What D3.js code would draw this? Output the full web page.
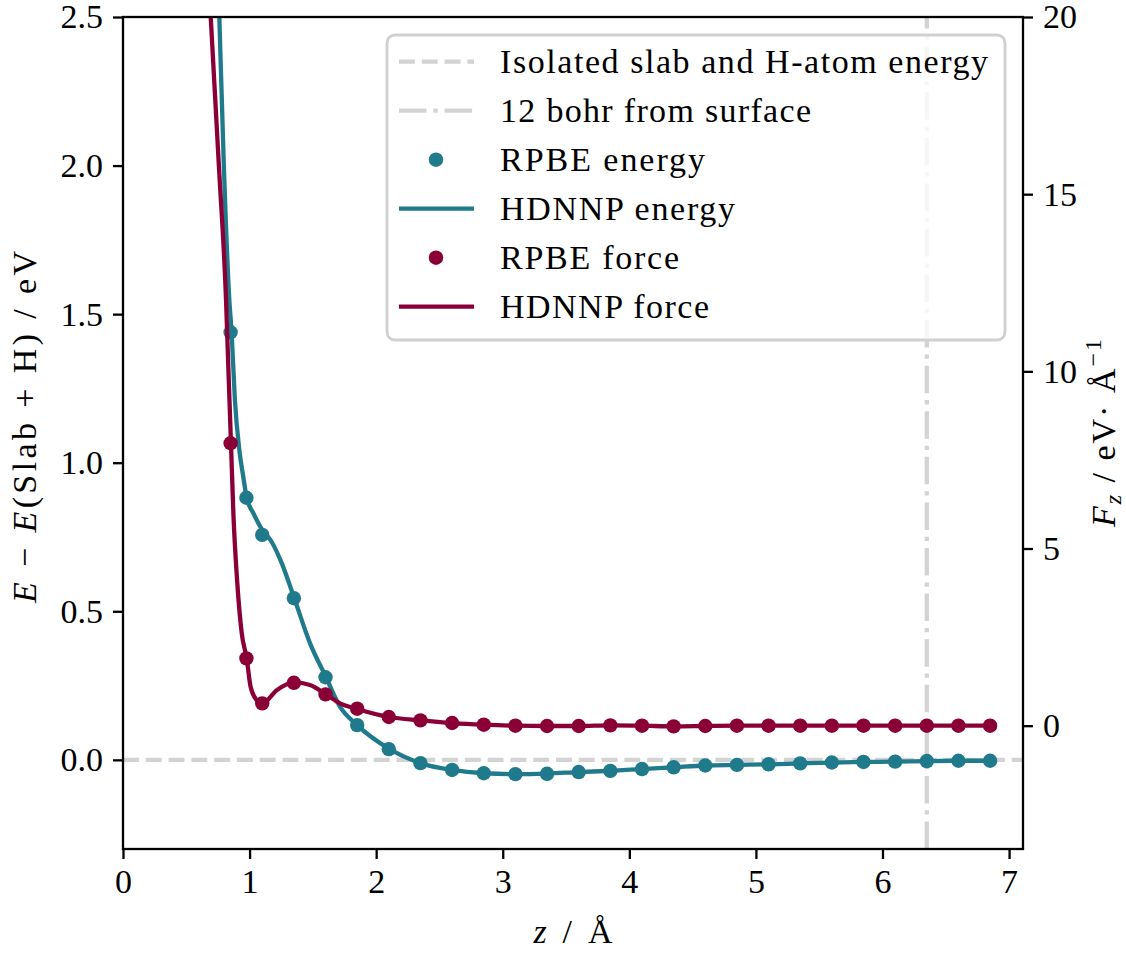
<!DOCTYPE html>
<html><head><meta charset="utf-8">
<script src="https://cdn.jsdelivr.net/npm/d3@7"></script>
<style>
body{margin:0;background:#fff}
text{font-family:"Liberation Serif","Times New Roman",serif;fill:#000}
</style>
</head><body>
<svg id="chart" width="1126" height="954"></svg>
<script>
// ---------- data ----------
const zPoints = [0.85, 0.975, 1.1, 1.35, 1.6, 1.85, 2.1, 2.35, 2.6, 2.85, 3.1, 3.35, 3.6, 3.85, 4.1, 4.35, 4.6, 4.85, 5.1, 5.35, 5.6, 5.85, 6.1, 6.35, 6.6, 6.85];
const rpbeEnergy = [1.439, 0.882, 0.757, 0.544, 0.278, 0.117, 0.036, -0.011, -0.034, -0.045, -0.048, -0.047, -0.041, -0.037, -0.031, -0.025, -0.019, -0.017, -0.015, -0.012, -0.009, -0.007, -0.006, -0.004, -0.003, -0.003];
const rpbeForce = [7.97, 1.90, 0.63, 1.21, 0.885, 0.48, 0.245, 0.15, 0.075, 0.028, 0.0, -0.009, -0.009, 0.009, 0.0, -0.019, -0.009, 0, 0, 0, 0, 0, 0, 0, 0, 0];

const hdnnpEnergyZ = [0.70, 0.761, 0.797, 0.84, 0.858, 0.884, 0.919, 0.95, 0.977, 1.03, 1.10, 1.174, 1.254, 1.353, 1.477, 1.604, 1.714, 1.85, 2.1, 2.35, 2.6, 2.85, 3.1, 3.35, 3.6, 3.85, 4.1, 4.35, 4.6, 4.85, 5.1, 5.35, 5.6, 5.85, 6.1, 6.35, 6.6, 6.85];
const hdnnpEnergy = [3.35, 2.5, 1.996, 1.547, 1.439, 1.211, 1.043, 0.953, 0.882, 0.830, 0.774, 0.734, 0.662, 0.544, 0.393, 0.278, 0.179, 0.117, 0.038, -0.011, -0.034, -0.045, -0.048, -0.046, -0.041, -0.037, -0.031, -0.025, -0.019, -0.017, -0.015, -0.012, -0.009, -0.007, -0.006, -0.004, -0.003, -0.003];

const hdnnpForceZ = [0.678, 0.693, 0.758, 0.814, 0.832, 0.853, 0.872, 0.903, 0.938, 0.977, 1.008, 1.056, 1.10, 1.217, 1.353, 1.477, 1.604, 1.714, 1.85, 2.1, 2.35, 2.6, 2.85, 3.1, 3.35, 3.6, 3.85, 4.1, 4.35, 4.6, 4.85, 5.1, 5.35, 5.6, 5.85, 6.1, 6.35, 6.6, 6.85];
const hdnnpForce = [21, 20, 15.77, 12.01, 10.13, 7.97, 5.99, 4.02, 2.61, 1.90, 1.10, 0.725, 0.63, 1.007, 1.22, 1.148, 0.885, 0.63, 0.47, 0.245, 0.15, 0.075, 0.028, 0.0, -0.009, -0.009, 0.009, 0.0, -0.019, -0.009, 0, 0, 0, 0, 0, 0, 0, 0, 0];

const xTicks = [0, 1, 2, 3, 4, 5, 6, 7];
const yLeftTicks = [0.0, 0.5, 1.0, 1.5, 2.0, 2.5];
const yRightTicks = [0, 5, 10, 15, 20];
const isolatedEnergy = 0.0;
const bohr12 = 6.35;
const legendLabels = ["Isolated slab and H-atom energy", "12 bohr from surface", "RPBE energy", "HDNNP energy", "RPBE force", "HDNNP force"];

// ---------- layout ----------
const teal = "#1f7a8c", crimson = "#8a0036", gray = "#d3d3d3";
const L = 123, R = 1023, T = 17, B = 849;
const LW = 4.3;
const svg = d3.select("#chart");

const x = d3.scaleLinear().domain([0, 7.11]).range([L, R]);
const yL = d3.scaleLinear().domain([-0.3, 2.5]).range([B, T]);
const yR = d3.scaleLinear().domain([-3.48, 20]).range([B, T]);

svg.append("defs").append("clipPath").attr("id", "clip")
  .append("rect").attr("x", L).attr("y", T).attr("width", R - L).attr("height", B - T);

const plot = svg.append("g").attr("clip-path", "url(#clip)");

// reference lines
plot.append("line")
  .attr("x1", L).attr("x2", R).attr("y1", yL(isolatedEnergy)).attr("y2", yL(isolatedEnergy))
  .attr("stroke", gray).attr("stroke-width", LW)
  .attr("stroke-dasharray", `${3.7*LW},${1.6*LW}`);
plot.append("line")
  .attr("x1", x(bohr12)).attr("x2", x(bohr12)).attr("y1", B).attr("y2", T)
  .attr("stroke", gray).attr("stroke-width", LW)
  .attr("stroke-dasharray", `${6.4*LW},${1.6*LW},${1*LW},${1.6*LW}`);

// energy
plot.selectAll("circle.e").data(zPoints).join("circle").attr("class", "e")
  .attr("cx", d => x(d)).attr("cy", (d, i) => yL(rpbeEnergy[i])).attr("r", 7.2).attr("fill", teal);
plot.append("path")
  .datum(hdnnpEnergyZ.map((z, i) => [z, hdnnpEnergy[i]]))
  .attr("d", d3.line().x(d => x(d[0])).y(d => yL(d[1])).curve(d3.curveMonotoneX))
  .attr("fill", "none").attr("stroke", teal).attr("stroke-width", LW).attr("stroke-linejoin", "round");

// force
plot.selectAll("circle.f").data(zPoints).join("circle").attr("class", "f")
  .attr("cx", d => x(d)).attr("cy", (d, i) => yR(rpbeForce[i])).attr("r", 7.2).attr("fill", crimson);
plot.append("path")
  .datum(hdnnpForceZ.map((z, i) => [z, hdnnpForce[i]]))
  .attr("d", d3.line().x(d => x(d[0])).y(d => yR(d[1])).curve(d3.curveMonotoneX))
  .attr("fill", "none").attr("stroke", crimson).attr("stroke-width", LW).attr("stroke-linejoin", "round");

// axes
const FS = 34;
const xAxis = svg.append("g").attr("transform", `translate(0,${B})`)
  .call(d3.axisBottom(x).tickValues(xTicks).tickFormat(d3.format("d")).tickSize(10).tickPadding(8));
const yAxisL = svg.append("g").attr("transform", `translate(${L},0)`)
  .call(d3.axisLeft(yL).tickValues(yLeftTicks).tickFormat(d3.format(".1f")).tickSize(10).tickPadding(10));
const yAxisR = svg.append("g").attr("transform", `translate(${R},0)`)
  .call(d3.axisRight(yR).tickValues(yRightTicks).tickFormat(d3.format("d")).tickSize(10).tickPadding(10));
[xAxis, yAxisL, yAxisR].forEach(g => {
  g.select(".domain").remove();
  g.selectAll(".tick line").attr("stroke", "#000").attr("stroke-width", 2.3);
  g.selectAll(".tick text").attr("font-size", FS).attr("font-family", "Liberation Serif");
});
xAxis.selectAll(".tick text").attr("dy", "0.75em");

// frame
svg.append("rect").attr("x", L).attr("y", T).attr("width", R - L).attr("height", B - T)
  .attr("fill", "none").attr("stroke", "#000").attr("stroke-width", 2.3);

// axis labels
const xl = svg.append("text").attr("x", (L + R) / 2).attr("y", 943).attr("text-anchor", "middle")
  .attr("font-size", FS).attr("textLength", 79).attr("lengthAdjust", "spacing");
xl.append("tspan").attr("font-style", "italic").text("z");
xl.append("tspan").text(" / Å");

const yl = svg.append("text").attr("transform", `translate(36,${(T + B) / 2 - 6}) rotate(-90)`)
  .attr("text-anchor", "middle").attr("font-size", FS)
  .attr("textLength", 352).attr("lengthAdjust", "spacing");
yl.append("tspan").attr("font-style", "italic").text("E");
yl.append("tspan").text(" − ");
yl.append("tspan").attr("font-style", "italic").text("E");
yl.append("tspan").text("(Slab + H) / eV");

const yr = svg.append("text").attr("transform", `translate(1115,${(T + B) / 2}) rotate(-90)`)
  .attr("text-anchor", "middle").attr("font-size", FS)
  .attr("textLength", 188).attr("lengthAdjust", "spacing");
yr.append("tspan").attr("font-style", "italic").text("F");
yr.append("tspan").attr("font-style", "italic").attr("font-size", 24).attr("dy", 6).text("z");
yr.append("tspan").attr("dy", -6).text(" / eV· Å");
yr.append("tspan").attr("font-size", 24).attr("dy", -14).text("−1");

// legend
const lg = svg.append("g");
lg.append("rect").attr("x", 387).attr("y", 35).attr("width", 618).attr("height", 305)
  .attr("rx", 8).attr("fill", "#fff").attr("fill-opacity", 0.8)
  .attr("stroke", "#d0d0d0").attr("stroke-width", 2.8);
const rowY = i => 61.7 + i * 49;
const hx1 = 399, hx2 = 474, hxm = 436;
lg.append("line").attr("x1", hx1).attr("x2", hx2).attr("y1", rowY(0)).attr("y2", rowY(0))
  .attr("stroke", gray).attr("stroke-width", LW).attr("stroke-dasharray", `${3.7*LW},${1.6*LW}`);
lg.append("line").attr("x1", hx1).attr("x2", hx2).attr("y1", rowY(1)).attr("y2", rowY(1))
  .attr("stroke", gray).attr("stroke-width", LW).attr("stroke-dasharray", `${6.4*LW},${1.6*LW},${1*LW},${1.6*LW}`);
lg.append("circle").attr("cx", hxm).attr("cy", rowY(2)).attr("r", 7.2).attr("fill", teal);
lg.append("line").attr("x1", hx1).attr("x2", hx2).attr("y1", rowY(3)).attr("y2", rowY(3))
  .attr("stroke", teal).attr("stroke-width", LW);
lg.append("circle").attr("cx", hxm).attr("cy", rowY(4)).attr("r", 7.2).attr("fill", crimson);
lg.append("line").attr("x1", hx1).attr("x2", hx2).attr("y1", rowY(5)).attr("y2", rowY(5))
  .attr("stroke", crimson).attr("stroke-width", LW);
const legendWidths = [488, 311, 205, 235, 179, 209];
lg.selectAll("text.lab").data(legendLabels).join("text").attr("class", "lab")
  .attr("x", 500).attr("y", (d, i) => rowY(i) + 11.6).attr("font-size", FS)
  .attr("textLength", (d, i) => legendWidths[i]).attr("lengthAdjust", "spacing")
  .text(d => d);
</script>
</body></html>
